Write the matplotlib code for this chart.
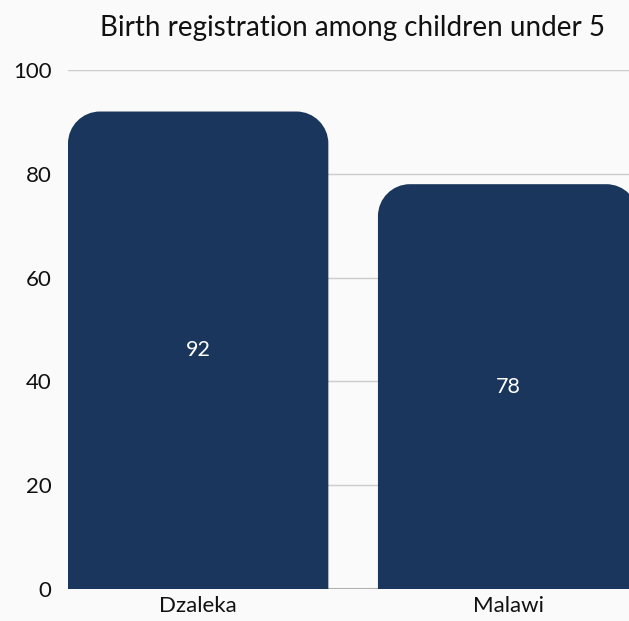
import matplotlib
matplotlib.use("Agg")
import matplotlib.pyplot as plt
from matplotlib.path import Path
from matplotlib.patches import PathPatch

categories = ["Dzaleka", "Malawi"]
values = [92, 78]
yticks = [0, 20, 40, 60, 80, 100]
title = "Birth registration among children under 5"

BAR_COLOR = "#1a365d"
BG = "#fafafa"
plt.rcParams['font.family'] = ['Lato', 'DejaVu Sans']

W, H = 629, 621
fig = plt.figure(figsize=(W / 100, H / 100), dpi=100, facecolor=BG)
ax = fig.add_axes([68 / W, 1 - 589 / H, 1 - 68 / W, (589 - 70) / H])
ax.set_facecolor(BG)

ax.set_ylim(0, 100)
ax.set_xlim(-0.42, 1.39)
ax.set_yticks(yticks)
ax.grid(axis='y', color='#cccccc', linewidth=1)
ax.set_axisbelow(True)
for s in ax.spines.values():
    s.set_visible(False)
ax.axhline(0, color='#b0b0b0', linewidth=1.5, zorder=1)
ax.tick_params(axis='both', length=0, labelsize=16, colors='#111111')
ax.tick_params(axis='y', pad=12)
ax.tick_params(axis='x', pad=5)

width = 0.84
bars = ax.bar(range(len(categories)), values, width=width, color=BAR_COLOR)
ax.set_xticks(range(len(categories)))
ax.set_xticklabels(categories)

# replace bars with rounded-top shapes
x_per_px = (1.39 + 0.42) / (W - 68)
y_per_px = 100 / (589 - 70)
r_px = 32
k = 0.5523
for b in bars:
    b.set_visible(False)
    x0 = b.get_x(); x1 = x0 + b.get_width(); h = b.get_height()
    rx = r_px * x_per_px; ry = r_px * y_per_px
    verts = [
        (x0, 0), (x0, h - ry),
        (x0, h - ry + k * ry), (x0 + rx - k * rx, h), (x0 + rx, h),
        (x1 - rx, h),
        (x1 - rx + k * rx, h), (x1, h - ry + k * ry), (x1, h - ry),
        (x1, 0), (x0, 0),
    ]
    codes = [Path.MOVETO, Path.LINETO,
             Path.CURVE4, Path.CURVE4, Path.CURVE4,
             Path.LINETO,
             Path.CURVE4, Path.CURVE4, Path.CURVE4,
             Path.LINETO, Path.CLOSEPOLY]
    ax.add_patch(PathPatch(Path(verts, codes), facecolor=BAR_COLOR,
                           edgecolor='none', zorder=2))
    ax.text(b.get_x() + b.get_width() / 2, h / 2, str(h if h % 1 else int(h)),
            ha='center', va='center', color='white', fontsize=15.5, zorder=3)

fig.text(353 / W, 1 - 28 / H, title, ha='center', va='center',
         fontsize=20, color='#111111')

fig.savefig("out.png", dpi=100, facecolor=BG)
